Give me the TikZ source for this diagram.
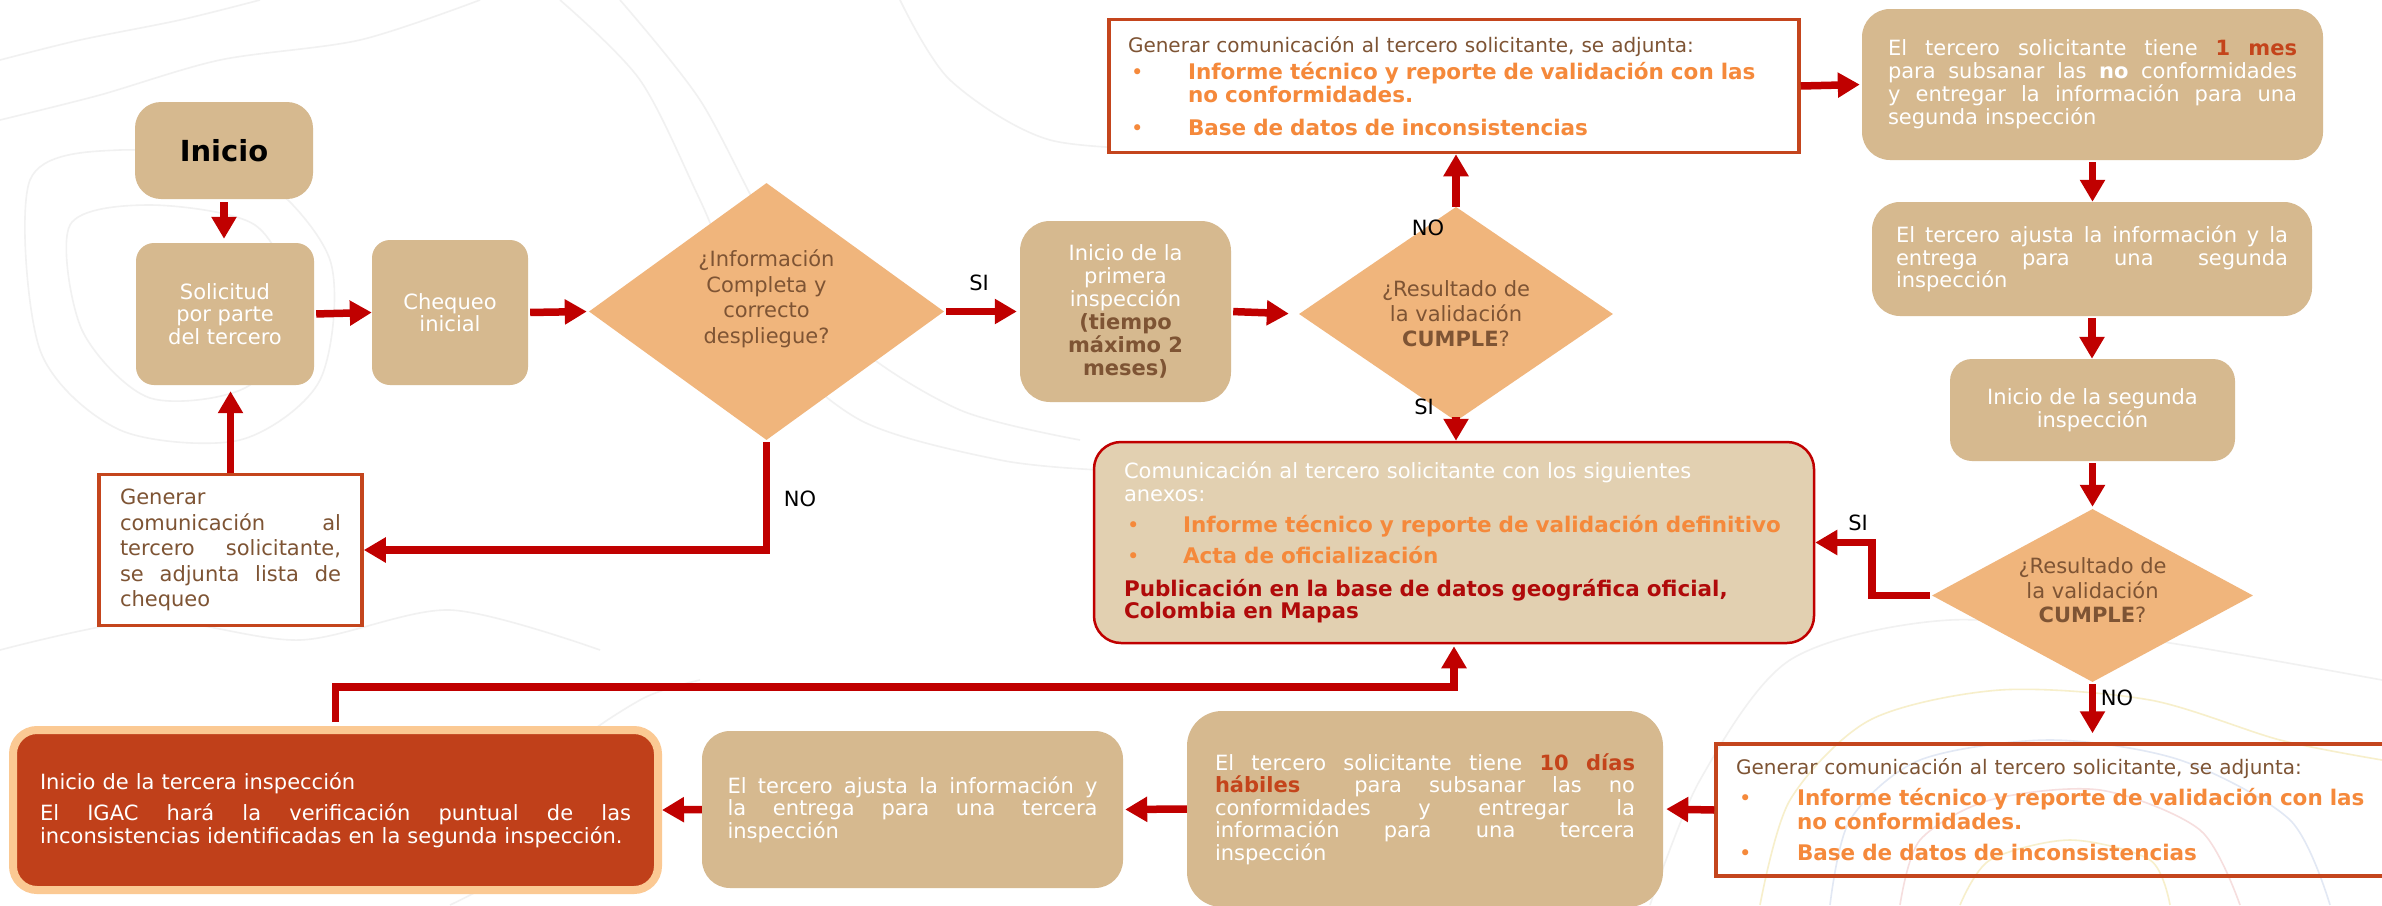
\documentclass[tikz,border=0pt]{standalone}
\usepackage{fontspec}
\setmainfont{DejaVu Sans}
\usetikzlibrary{shapes.geometric,arrows.meta}

\definecolor{tanc}{HTML}{D6B98F}
\definecolor{peachc}{HTML}{F0B57C}
\definecolor{bigfill}{HTML}{E2D0B1}
\definecolor{rustc}{HTML}{C4451D}
\definecolor{flowred}{HTML}{C00000}
\definecolor{browntxt}{HTML}{7E5434}
\definecolor{orangetxt}{HTML}{F5893B}
\definecolor{darkredtxt}{HTML}{B00A0A}
\definecolor{hilite}{HTML}{C4441B}
\definecolor{thirdfill}{HTML}{C0401A}
\definecolor{thirdrim}{HTML}{FBC993}
\definecolor{contourgray}{HTML}{F1F1F1}
\definecolor{contouryellow}{HTML}{F7EFCB}
\definecolor{contourblue}{HTML}{E2E8F4}
\definecolor{contourpink}{HTML}{F6DEDE}

% one justified line of a given width: every interword space stretches evenly
\newcommand{\justline}[2]{\makebox[#1][s]{\spaceskip=0.318em plus 1fil\relax #2}}
% bold bullet text
\newcommand{\boldbig}{\fontsize{21.5}{23}\selectfont\bfseries}
% bullet item: indent, text
\newcommand{\bulitem}[2]{\makebox[#1][l]{\hspace{3pt}\textcolor{orangetxt}{•}}\textcolor{orangetxt}{\boldbig #2}}

\tikzset{
  base/.style={inner sep=0pt, font=\fontsize{21}{22.5}\selectfont},
  tanbox/.style={base, rectangle, fill=tanc, text=white, align=center},
  dia/.style={base, diamond, fill=peachc, text=browntxt, align=center},
  diatext/.style={base, text=browntxt, align=center},
  rimbox/.style={base, rectangle, draw=rustc, line width=3.5pt, fill=white, text=browntxt},
  flow/.style={draw=flowred, line width=7.5pt, -{Triangle[length=22pt,width=24pt]}},
  tag/.style={inner sep=0pt, font=\fontsize{21}{22.5}\selectfont, text=black},
  contour/.style={draw=contourgray, line width=1.6pt},
}

\begin{document}
\begin{tikzpicture}[x=1pt, y=-1pt]
\useasboundingbox (0,0) rectangle (2382,905);
\fill[white] (0,0) rectangle (2382,905);

% faint topographic background
\draw[contour] plot[smooth cycle] coordinates {(30,180) (120,150) (250,170) (330,260) (320,380) (240,440) (120,430) (40,350)};
\draw[contour] plot[smooth cycle] coordinates {(70,225) (150,205) (255,225) (290,300) (250,385) (150,398) (82,330)};
\draw[contour] plot[smooth] coordinates {(0,60) (80,40) (180,20) (260,0)};
\draw[contour] plot[smooth] coordinates {(0,120) (100,95) (220,60) (360,40) (480,0)};
\draw[contour] plot[smooth] coordinates {(560,0) (640,80) (700,200) (760,330) (860,420) (1000,460) (1100,470)};
\draw[contour] plot[smooth] coordinates {(620,0) (700,100) (770,230) (850,340) (960,410) (1080,440)};
\draw[contour] plot[smooth] coordinates {(900,0) (950,80) (1050,140) (1200,150)};
\draw[contour] plot[smooth] coordinates {(0,650) (150,620) (300,640) (450,610) (600,650)};
\draw[contour] plot[smooth] coordinates {(450,905) (520,860) (560,760) (640,700) (700,680)};
\draw[contour] plot[smooth] coordinates {(1650,905) (1700,780) (1790,660) (1950,620) (2150,640) (2382,680)};
\draw[draw=contouryellow, line width=1.6pt] plot[smooth] coordinates {(1760,905) (1790,800) (1870,720) (2000,690) (2150,700) (2280,740) (2382,760)};
\draw[draw=contourblue, line width=1.6pt] plot[smooth] coordinates {(1830,905) (1850,820) (1920,760) (2050,740) (2180,760) (2290,820) (2330,905)};
\draw[draw=contourpink, line width=1.6pt] plot[smooth] coordinates {(1900,905) (1920,840) (1990,800) (2100,790) (2200,830) (2240,905)};
\draw[draw=contouryellow, line width=1.6pt] plot[smooth] coordinates {(1960,905) (1990,860) (2070,840) (2150,860) (2170,905)};

% ---- left column ----
\node[tanbox, minimum width=178pt, minimum height=97pt, rounded corners=26pt,
      font=\fontsize{29}{32}\selectfont\bfseries, text=black] (inicio) at (224,150.5) {Inicio};
\node[tanbox, minimum width=178pt, minimum height=142pt, rounded corners=18pt] (sol) at (225,314)
  {Solicitud\\por parte\\del tercero};
\node[tanbox, minimum width=156pt, minimum height=145pt, rounded corners=18pt] (cheq) at (450,312.5)
  {Chequeo\\inicial};
\node[rimbox, minimum width=263pt, minimum height=151pt, text width=221pt, align=left,
      font=\fontsize{21}{25.4}\selectfont] (gen) at (230.5,550)
  {Generar\\
   \justline{221pt}{comunicación al}\\
   \justline{221pt}{tercero solicitante,}\\
   \justline{221pt}{se adjunta lista de}\\
   chequeo};

% ---- first decision ----
\node[dia, minimum width=355pt, minimum height=257pt] (d1) at (766.5,311.5) {};
\node[diatext, font=\fontsize{21}{25.5}\selectfont] (d1t) at (766.5,299)
  {¿Información\\Completa y\\correcto\\despliegue?};
\node[tanbox, minimum width=211pt, minimum height=181pt, rounded corners=30pt,
      font=\fontsize{21}{23}\selectfont] (prim) at (1125.5,311.5)
  {Inicio de la\\primera\\inspección\\
   \textcolor{browntxt}{\bfseries (tiempo}\\
   \textcolor{browntxt}{\bfseries máximo 2}\\
   \textcolor{browntxt}{\bfseries meses)}};

% ---- second decision ----
\node[dia, minimum width=314pt, minimum height=152pt, font=\fontsize{21}{25}\selectfont] (d2) at (1456,314)
  {¿Resultado de\\la validación\\\textbf{CUMPLE}?};

\node[rimbox, minimum width=690pt, minimum height=133pt, text width=652pt, align=left] (top) at (1454,86)
  {{\fontsize{20}{22.5}\selectfont Generar comunicación al tercero solicitante, se adjunta:}\\[5pt]
   \bulitem{60pt}{Informe técnico y reporte de validación con las}\\
   \hspace*{60pt}\textcolor{orangetxt}{\boldbig no conformidades.}\\[11pt]
   \bulitem{60pt}{Base de datos de inconsistencias}};

\node[base, rectangle, fill=bigfill, draw=flowred, line width=2.5pt, rounded corners=27pt,
      minimum width=720pt, minimum height=201pt, text width=660pt, align=left, text=white,
      font=\fontsize{21}{23}\selectfont] (big) at (1454,542.5)
  {Comunicación al tercero solicitante con los siguientes\\
   anexos:\\[8pt]
   \bulitem{59pt}{Informe técnico y reporte de validación definitivo}\\[8pt]
   \bulitem{59pt}{Acta de oficialización}\\[10pt]
   \textcolor{darkredtxt}{\boldbig Publicación en la base de datos geográfica oficial,}\\[-1pt]
   \textcolor{darkredtxt}{\boldbig Colombia en Mapas}};

% ---- right column ----
\node[tanbox, minimum width=461pt, minimum height=151pt, rounded corners=28pt, text width=409pt,
      align=left, font=\fontsize{21}{23}\selectfont] (mes) at (2092.5,84.5)
  {\justline{409pt}{El tercero solicitante tiene \textcolor{hilite}{\bfseries 1 mes}}\\
   \justline{409pt}{para subsanar las \textbf{no} conformidades}\\
   \justline{409pt}{y entregar la información para una}\\
   segunda inspección};
\node[tanbox, minimum width=440pt, minimum height=114pt, rounded corners=28pt, text width=392pt,
      align=left] (aj2) at (2092,259)
  {\justline{392pt}{El tercero ajusta la información y la}\\
   \justline{392pt}{entrega para una segunda}\\
   inspección};
\node[tanbox, minimum width=285pt, minimum height=102pt, rounded corners=22pt,
      font=\fontsize{21}{23}\selectfont] (seg) at (2092.5,410)
  {Inicio de la segunda\\inspección};
\node[dia, minimum width=321pt, minimum height=173pt] (d3) at (2092.5,595.5) {};
\node[diatext, font=\fontsize{21}{24.5}\selectfont] (d3t) at (2092.5,590.5)
  {¿Resultado de\\la validación\\\textbf{CUMPLE}?};

% ---- bottom row ----
\node[rimbox, fill=none, minimum width=676pt, minimum height=132pt, text width=636pt, align=left,
      font=\fontsize{21}{23}\selectfont] (br) at (2054,810)
  {{\fontsize{20}{23}\selectfont Generar comunicación al tercero solicitante, se adjunta:}\\[8pt]
   \bulitem{61pt}{Informe técnico y reporte de validación con las}\\[1pt]
   \hspace*{61pt}\textcolor{orangetxt}{\boldbig no conformidades.}\\[8pt]
   \bulitem{61pt}{Base de datos de inconsistencias}};
\node[tanbox, minimum width=476pt, minimum height=196pt, rounded corners=35pt, text width=420pt,
      align=left] (dias) at (1425,809)
  {\justline{420pt}{El tercero solicitante tiene \textcolor{hilite}{\bfseries 10 días}}\\
   \justline{420pt}{\textcolor{hilite}{\bfseries hábiles}\ \ para subsanar las no}\\
   \justline{420pt}{conformidades y entregar la}\\
   \justline{420pt}{información para una tercera}\\
   inspección};
\node[tanbox, minimum width=421pt, minimum height=157pt, rounded corners=28pt, text width=370pt,
      align=left] (ajt) at (912.5,809.5)
  {\justline{370pt}{El tercero ajusta la información y}\\
   \justline{370pt}{la entrega para una tercera}\\
   inspección};
\node[base, rectangle, fill=thirdfill, draw=thirdrim, line width=8pt, rounded corners=24pt,
      minimum width=645pt, minimum height=160pt, text width=591pt, align=left, text=white]
      (terc) at (335.5,810)
  {Inicio de la tercera inspección\\[9pt]
   \justline{591pt}{El IGAC hará la verificación puntual de las}\\
   inconsistencias identificadas en la segunda inspección.};

% ---- bend points ----
\coordinate (siturn) at (1872,595.5);
\coordinate (tbend) at (900,687);

% ---- connectors ----
\draw[flow, shorten <=3pt, shorten >=4pt] (inicio.south) -- (inicio.south |- sol.north);
\draw[flow, shorten <=2pt] (sol.east) -- (cheq.west);
\draw[flow, shorten <=2pt, shorten >=2pt] (cheq.east) -- (d1.west);
\draw[flow, shorten <=2pt, shorten >=3pt] (d1.east) -- (prim.west);
\draw[flow, shorten <=2pt, shorten >=10pt] (prim.east) -- (d2.west);
\draw[flow] (d2.north) -- (d2.north |- top.south);
\draw[flow, shorten <=4pt] (d2.south) -- (d2.south |- big.north);
\draw[flow, shorten >=2pt] (top.east) -- (mes.west);
\draw[flow, shorten <=2pt] (mes.south) -- (mes.south |- aj2.north);
\draw[flow, shorten <=2pt] (aj2.south) -- (aj2.south |- seg.north);
\draw[flow, shorten <=2pt, shorten >=2pt] (seg.south) -- (seg.south |- d3.north);
\draw[flow, shorten <=2pt] (d3.west) -- (siturn) |- (big.east);
\draw[flow, shorten <=2pt, shorten >=9pt] (d3.south) -- (d3.south |- br.north);
\draw[flow, shorten >=3pt] (br.west) -- (dias.east);
\draw[flow, shorten >=2pt] (dias.west) -- (ajt.east);
\draw[flow] (ajt.west) -- (terc.east);
\draw[flow, shorten <=4pt, shorten >=2pt] (terc.north) |- (tbend) -| (big.south);
\draw[flow, shorten <=2pt] (d1.south) |- (gen.east);
\draw[flow, shorten >=6pt] (gen.north) -- (gen.north |- sol.south);

% ---- branch labels ----
\node[tag] (si1) at (979,283) {SI};
\node[tag] (no1) at (1428,228) {NO};
\node[tag] (si2) at (1424,407) {SI};
\node[tag] (si3) at (1858,523) {SI};
\node[tag] (no3) at (2117,698) {NO};
\node[tag] (no2) at (800,499) {NO};
\end{tikzpicture}
\end{document}
